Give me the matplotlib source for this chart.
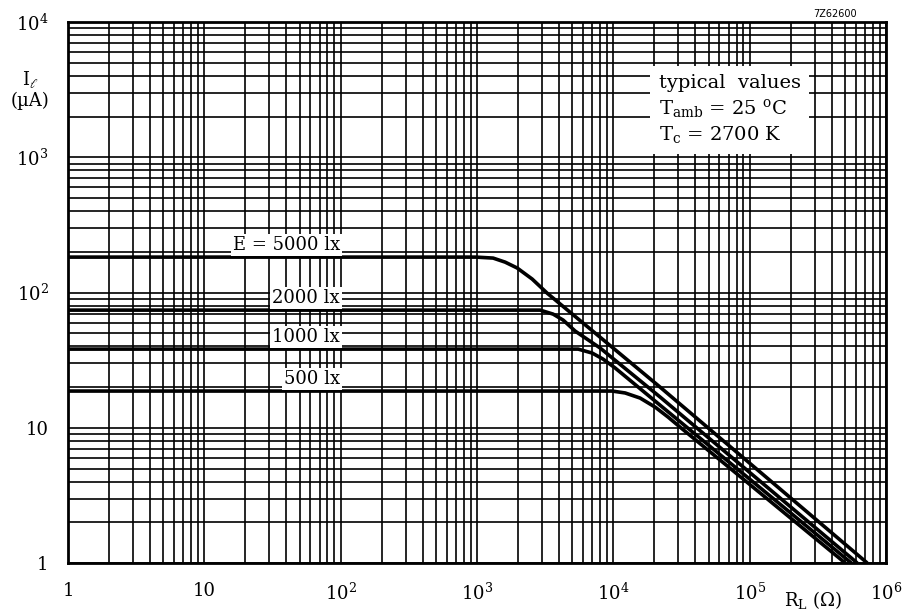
import matplotlib
matplotlib.use("Agg")
import matplotlib.pyplot as plt
from matplotlib.ticker import LogLocator, NullFormatter

plt.rcParams['font.family'] = ['DejaVu Serif']
plt.rcParams['mathtext.fontset'] = 'dejavuserif'

# load resistance R_L (ohm) and current I (uA)
r_5000 = [1, 985, 1312, 1607, 1970, 2536, 3270, 22000, 7.28e5]
i_5000 = [183, 183, 180, 168, 152, 126, 99, 20, 1]

r_2000 = [1, 2904, 3616, 4283, 5248, 8000, 22000, 6.15e5]
i_2000 = [74.2, 74.2, 69.3, 62.6, 51.9, 38.9, 16.9, 1]

r_1000 = [1, 5520, 7000, 8410, 10300, 22000, 5.56e5]
i_1000 = [38.2, 38.2, 35.7, 32.2, 27.7, 14.7, 1]

r_500 = [1, 9800, 12200, 15700, 20300, 25200, 30900, 5.02e5]
i_500 = [18.7, 18.7, 18.1, 16.6, 14.2, 12.0, 10.1, 1]

curve_labels = ["E = 5000 lx", "2000 lx", "1000 lx", "500 lx"]
label_y = [224, 91, 46.9, 22.9]

x_ticks = [1, 10, 100, 1e3, 1e4, 1e5, 1e6]
x_ticklabels = ["1", "10", "10$^2$", "10$^3$", "10$^4$", "10$^5$", "10$^6$"]
y_ticks = [1, 10, 100, 1e3, 1e4]
y_ticklabels = ["1", "10", "10$^2$", "10$^3$", "10$^4$"]

fig = plt.figure(figsize=(9.13, 6.16), dpi=100)
ax = fig.add_axes([0.0745, 0.086, 0.896, 0.878])
ax.set_xscale('log')
ax.set_yscale('log')
ax.set_xlim(1, 1e6)
ax.set_ylim(1, 1e4)

# chart paper grid
ax.xaxis.set_minor_locator(LogLocator(base=10, subs=range(2, 10), numticks=20))
ax.yaxis.set_minor_locator(LogLocator(base=10, subs=range(2, 10), numticks=20))
ax.xaxis.set_minor_formatter(NullFormatter())
ax.yaxis.set_minor_formatter(NullFormatter())
ax.grid(True, which='both', color='black', lw=1.2)
ax.set_axisbelow(True)
for s in ax.spines.values():
    s.set_linewidth(2)

ax.set_xticks(x_ticks)
ax.set_xticklabels(x_ticklabels)
ax.set_yticks(y_ticks)
ax.set_yticklabels(y_ticklabels)
ax.tick_params(which='both', length=0, labelsize=13)
ax.tick_params(axis='x', pad=14)
ax.tick_params(axis='y', pad=14)

# curves
for r, i in [(r_5000, i_5000), (r_2000, i_2000), (r_1000, i_1000), (r_500, i_500)]:
    ax.plot(r, i, color='black', lw=2.6, solid_capstyle='butt', zorder=3)

for txt, y in zip(curve_labels, label_y):
    ax.text(99, y, txt, ha='right', va='center', fontsize=13, zorder=4,
            bbox=dict(facecolor='white', edgecolor='none', pad=1.5))

ax.text(0.722, 0.905,
        "typical  values\nT$_{\\rm amb}$ = 25 $^{\\rm o}$C\nT$_{\\rm c}$ = 2700 K",
        transform=ax.transAxes, ha='left', va='top', fontsize=14,
        linespacing=1.3, zorder=4,
        bbox=dict(facecolor='white', edgecolor='none', pad=6))

fig.text(30 / 913, 1 - 80 / 616, "I$_\\ell$", ha='center', va='center', fontsize=13)
fig.text(30 / 913, 1 - 101 / 616, "(\u00b5A)", ha='center', va='center', fontsize=13)
fig.text(813 / 913, 1 - 600 / 616, "R$_{\\rm L}$ (\u03a9)", ha='center', va='center', fontsize=13)
fig.text(835 / 913, 1 - 14 / 616, "7Z62600", ha='center', va='center', fontsize=7,
         family='DejaVu Sans')

fig.savefig("out.png", dpi=100)
